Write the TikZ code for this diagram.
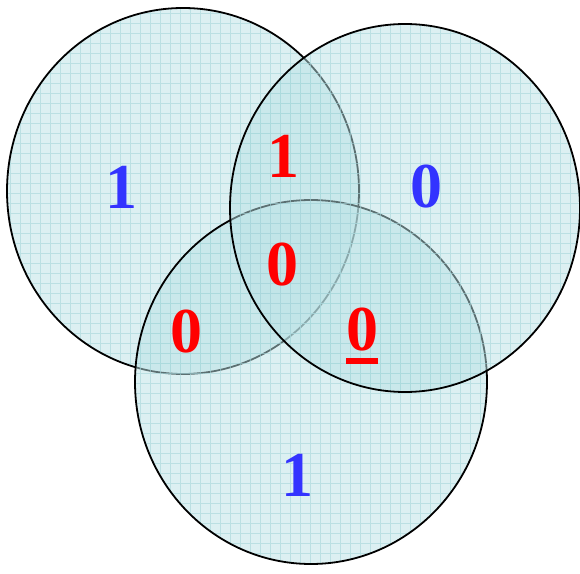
\documentclass[tikz,border=0pt]{standalone}
\usepackage{fontspec}
\setmainfont{Liberation Serif}
\definecolor{vfill}{RGB}{185,225,229}
\definecolor{gridc}{RGB}{165,213,218}
\definecolor{dblue}{RGB}{51,51,255}
\definecolor{dred}{RGB}{255,0,0}
\tikzset{
  setfill/.style={fill=vfill,fill opacity=0.5},
  setline/.style={draw=black,line width=1.8pt},
  gridlines/.style={draw=gridc,line width=0.6pt,opacity=0.6},
  digit/.style={inner sep=0pt,font=\fontsize{64}{64}\selectfont\bfseries},
}
\begin{document}
\begin{tikzpicture}[x=1pt,y=1pt]
\useasboundingbox (0,0) rectangle (580,573);
% left set
\fill[setfill] (183,382) ellipse [x radius=176, y radius=183];
\begin{scope}
  \clip (183,382) ellipse [x radius=176, y radius=183];
  \draw[gridlines] (3,3) grid[step=10] (580,573);
\end{scope}
\draw[setline] (183,382) ellipse [x radius=176, y radius=183];
% bottom set
\fill[setfill] (311,191) ellipse [x radius=176, y radius=182];
\begin{scope}
  \clip (311,191) ellipse [x radius=176, y radius=182];
  \draw[gridlines] (3,3) grid[step=10] (580,573);
\end{scope}
\draw[setline] (311,191) ellipse [x radius=176, y radius=182];
% right set
\fill[setfill] (405,365) ellipse [x radius=175, y radius=184];
\begin{scope}
  \clip (405,365) ellipse [x radius=175, y radius=184];
  \draw[gridlines] (3,3) grid[step=10] (580,573);
\end{scope}
\draw[setline] (405,365) ellipse [x radius=175, y radius=184];
% labels
\node[digit,text=dblue] (a) at (121,386) {1};
\node[digit,text=dred]  (ab) at (283,417) {1};
\node[digit,text=dblue] (b) at (426,386) {0};
\node[digit,text=dred]  (abc) at (282,308) {0};
\node[digit,text=dred]  (ac) at (186,241) {0};
\node[digit,text=dred]  (bc) at (362,243) {0};
\node[digit,text=dblue] (c) at (297,98) {1};
\fill[dred] (346,209) rectangle (378,215);
\end{tikzpicture}
\end{document}
